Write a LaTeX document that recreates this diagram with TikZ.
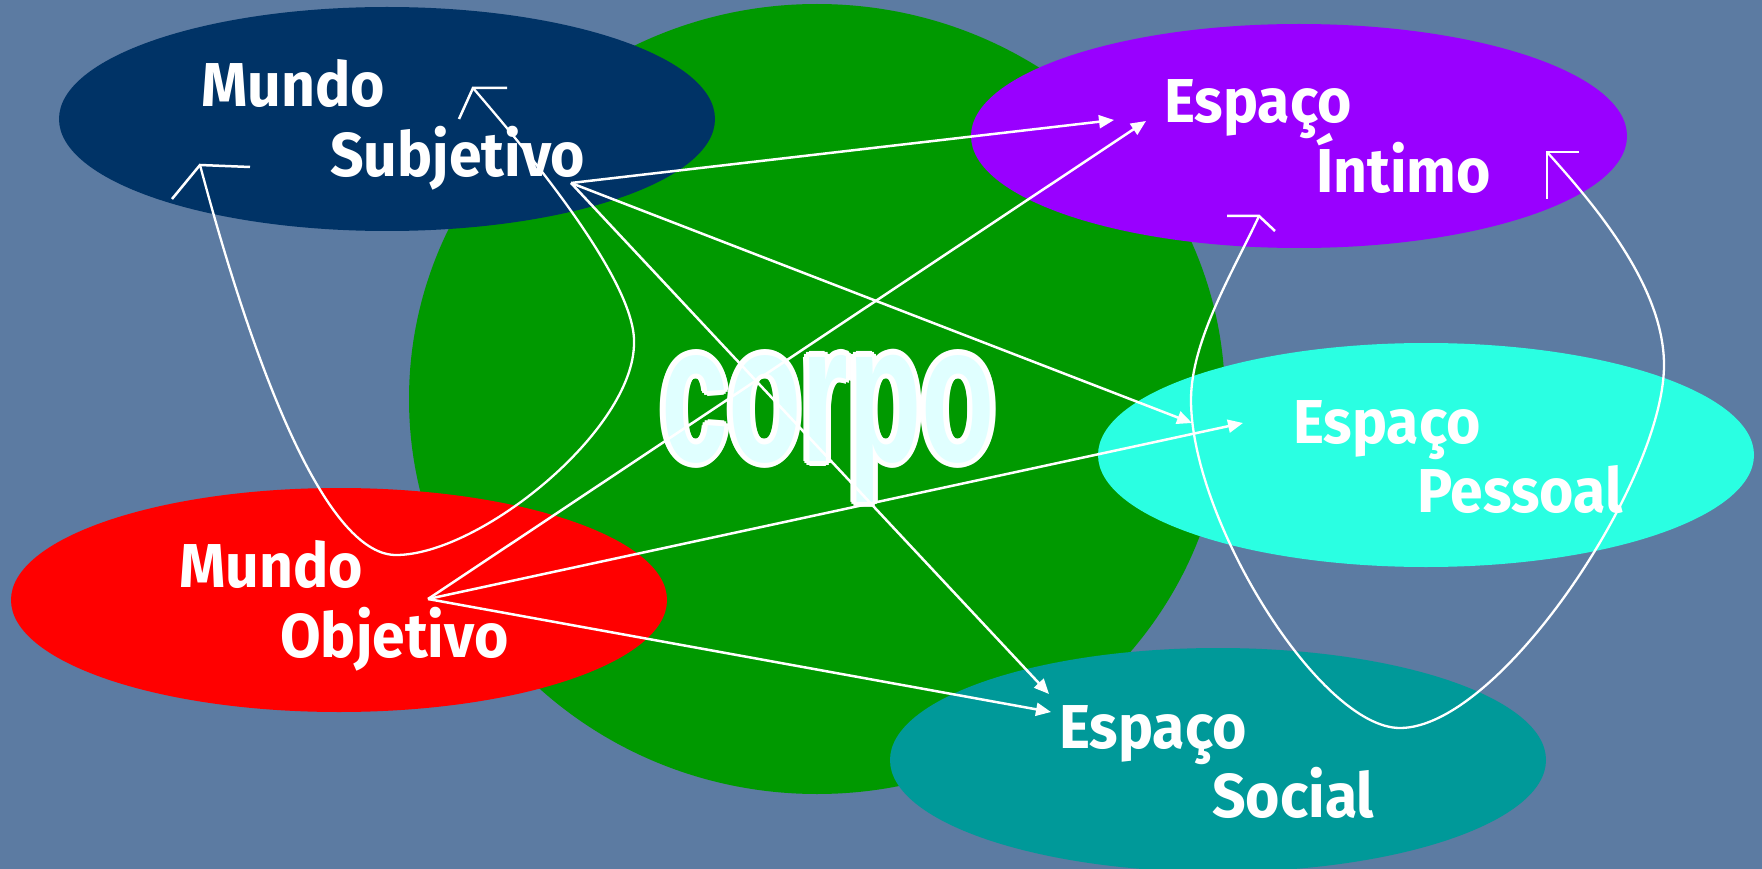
\documentclass[tikz,border=0pt]{standalone}
\usepackage{fontspec}
\setmainfont{Fira Sans}[FakeStretch=0.95]
\newfontfamily\corpofont{Liberation Sans Bold}[FakeStretch=0.61]
\usetikzlibrary{arrows.meta,shapes.geometric}
\definecolor{bg}{RGB}{92,123,162}
\definecolor{navy}{RGB}{0,51,102}
\definecolor{grn}{RGB}{0,153,0}
\definecolor{purp}{RGB}{153,0,255}
\definecolor{redc}{RGB}{255,0,0}
\definecolor{cyanc}{RGB}{42,255,226}
\definecolor{tealc}{RGB}{0,153,153}
\definecolor{corpofill}{RGB}{224,255,255}
\tikzset{
  blob/.style={shape=ellipse, minimum width=656pt, minimum height=224pt, inner sep=0pt, draw=none},
  lbl/.style={text=white, font=\fontsize{62}{62}\selectfont\bfseries, anchor=base west, inner sep=0pt},
  corpotxt/.style={font=\corpofont\fontsize{197}{197}\selectfont, anchor=base west, inner sep=0pt},
  link/.style={draw=white, line width=2.5pt, -{Triangle[length=15pt,width=13pt]}},
  curv/.style={draw=white, line width=2.3pt, line join=round},
  tick/.style={draw=white, line width=2.5pt},
}
\begin{document}
\begin{tikzpicture}[x=1pt,y=-1pt]
\fill[bg] (0,0) rectangle (1762,869);
\useasboundingbox (0,0) rectangle (1762,869);
% central body
\node[shape=ellipse, fill=grn, minimum width=816pt, minimum height=790pt, inner sep=0pt] (corpoc) at (817,399) {};
% ellipses
\node[blob, fill=navy]  (ms) at (387,119) {};
\node[blob, fill=redc]  (mo) at (339,600) {};
\node[blob, fill=purp]  (ei) at (1299,136) {};
\node[blob, fill=cyanc] (ep) at (1426,455) {};
\node[blob, fill=tealc] (es) at (1218,760) {};
% corpo text with white outline
\foreach \a in {0,30,...,330}{
  \node[corpotxt, text=white, shift={(\a:5.5pt)}] (corpoo\a) at (661,461) {corpo};
}
\node[corpotxt, text=corpofill] (corpo) at (661,461) {corpo};
% labels
\node[lbl] (ms1) at (201,107) {Mundo};
\node[lbl] (ms2) at (330,177) {Subjetivo};
\node[lbl] (ei1) at (1164,123) {Espaço};
\node[lbl] (ei2) at (1316,193) {Íntimo};
\node[lbl] (mo1) at (179,587) {Mundo};
\node[lbl] (mo2) at (280,657) {Objetivo};
\node[lbl] (ep1) at (1293,443) {Espaço};
\node[lbl] (ep2) at (1417,512) {Pessoal};
\node[lbl] (es1) at (1059,748) {Espaço};
\node[lbl] (es2) at (1212,817) {Social};
% connector points
\coordinate (S) at (571,183);
\coordinate (O) at (428,599);
\coordinate (t1) at (1114,120);
\coordinate (t2) at (1192,423);
\coordinate (t3) at (1049,694);
\coordinate (u1) at (1146,121);
\coordinate (u2) at (1243,423);
\coordinate (u3) at (1051,712);
\coordinate (aL) at (200,165);
\coordinate (aT) at (473,88);
\coordinate (bL) at (1259,216);
\coordinate (bR) at (1547,152);
% straight arrows
\draw[link] (S) -- (t1);
\draw[link] (S) -- (t2);
\draw[link] (S) -- (t3);
\draw[link] (O) -- (u1);
\draw[link] (O) -- (u2);
\draw[link] (O) -- (u3);
% curved double connectors
\draw[curv] (aL) .. controls (260,390) and (330,555) .. (396,555)
                 .. controls (480,555) and (634,430) .. (634,343)
                 .. controls (636,282) and (530,154) .. (aT);
\draw[curv] (bL) .. controls (1234,270) and (1191,340) .. (1191,400)
                 .. controls (1191,520) and (1320,728) .. (1400,728)
                 .. controls (1500,728) and (1664,480) .. (1664,365)
                 .. controls (1664,285) and (1592,202) .. (bR);
% odd open arrowheads
\draw[tick] (250,167) -- (aL) -- (172,199);
\draw[tick] (507,88) -- (aT) -- (459,119);
\draw[tick] (1227,216) -- (bL) -- (1275,231);
\draw[tick] (1579,152) -- (bR) -- (1547,199);
\end{tikzpicture}
\end{document}
